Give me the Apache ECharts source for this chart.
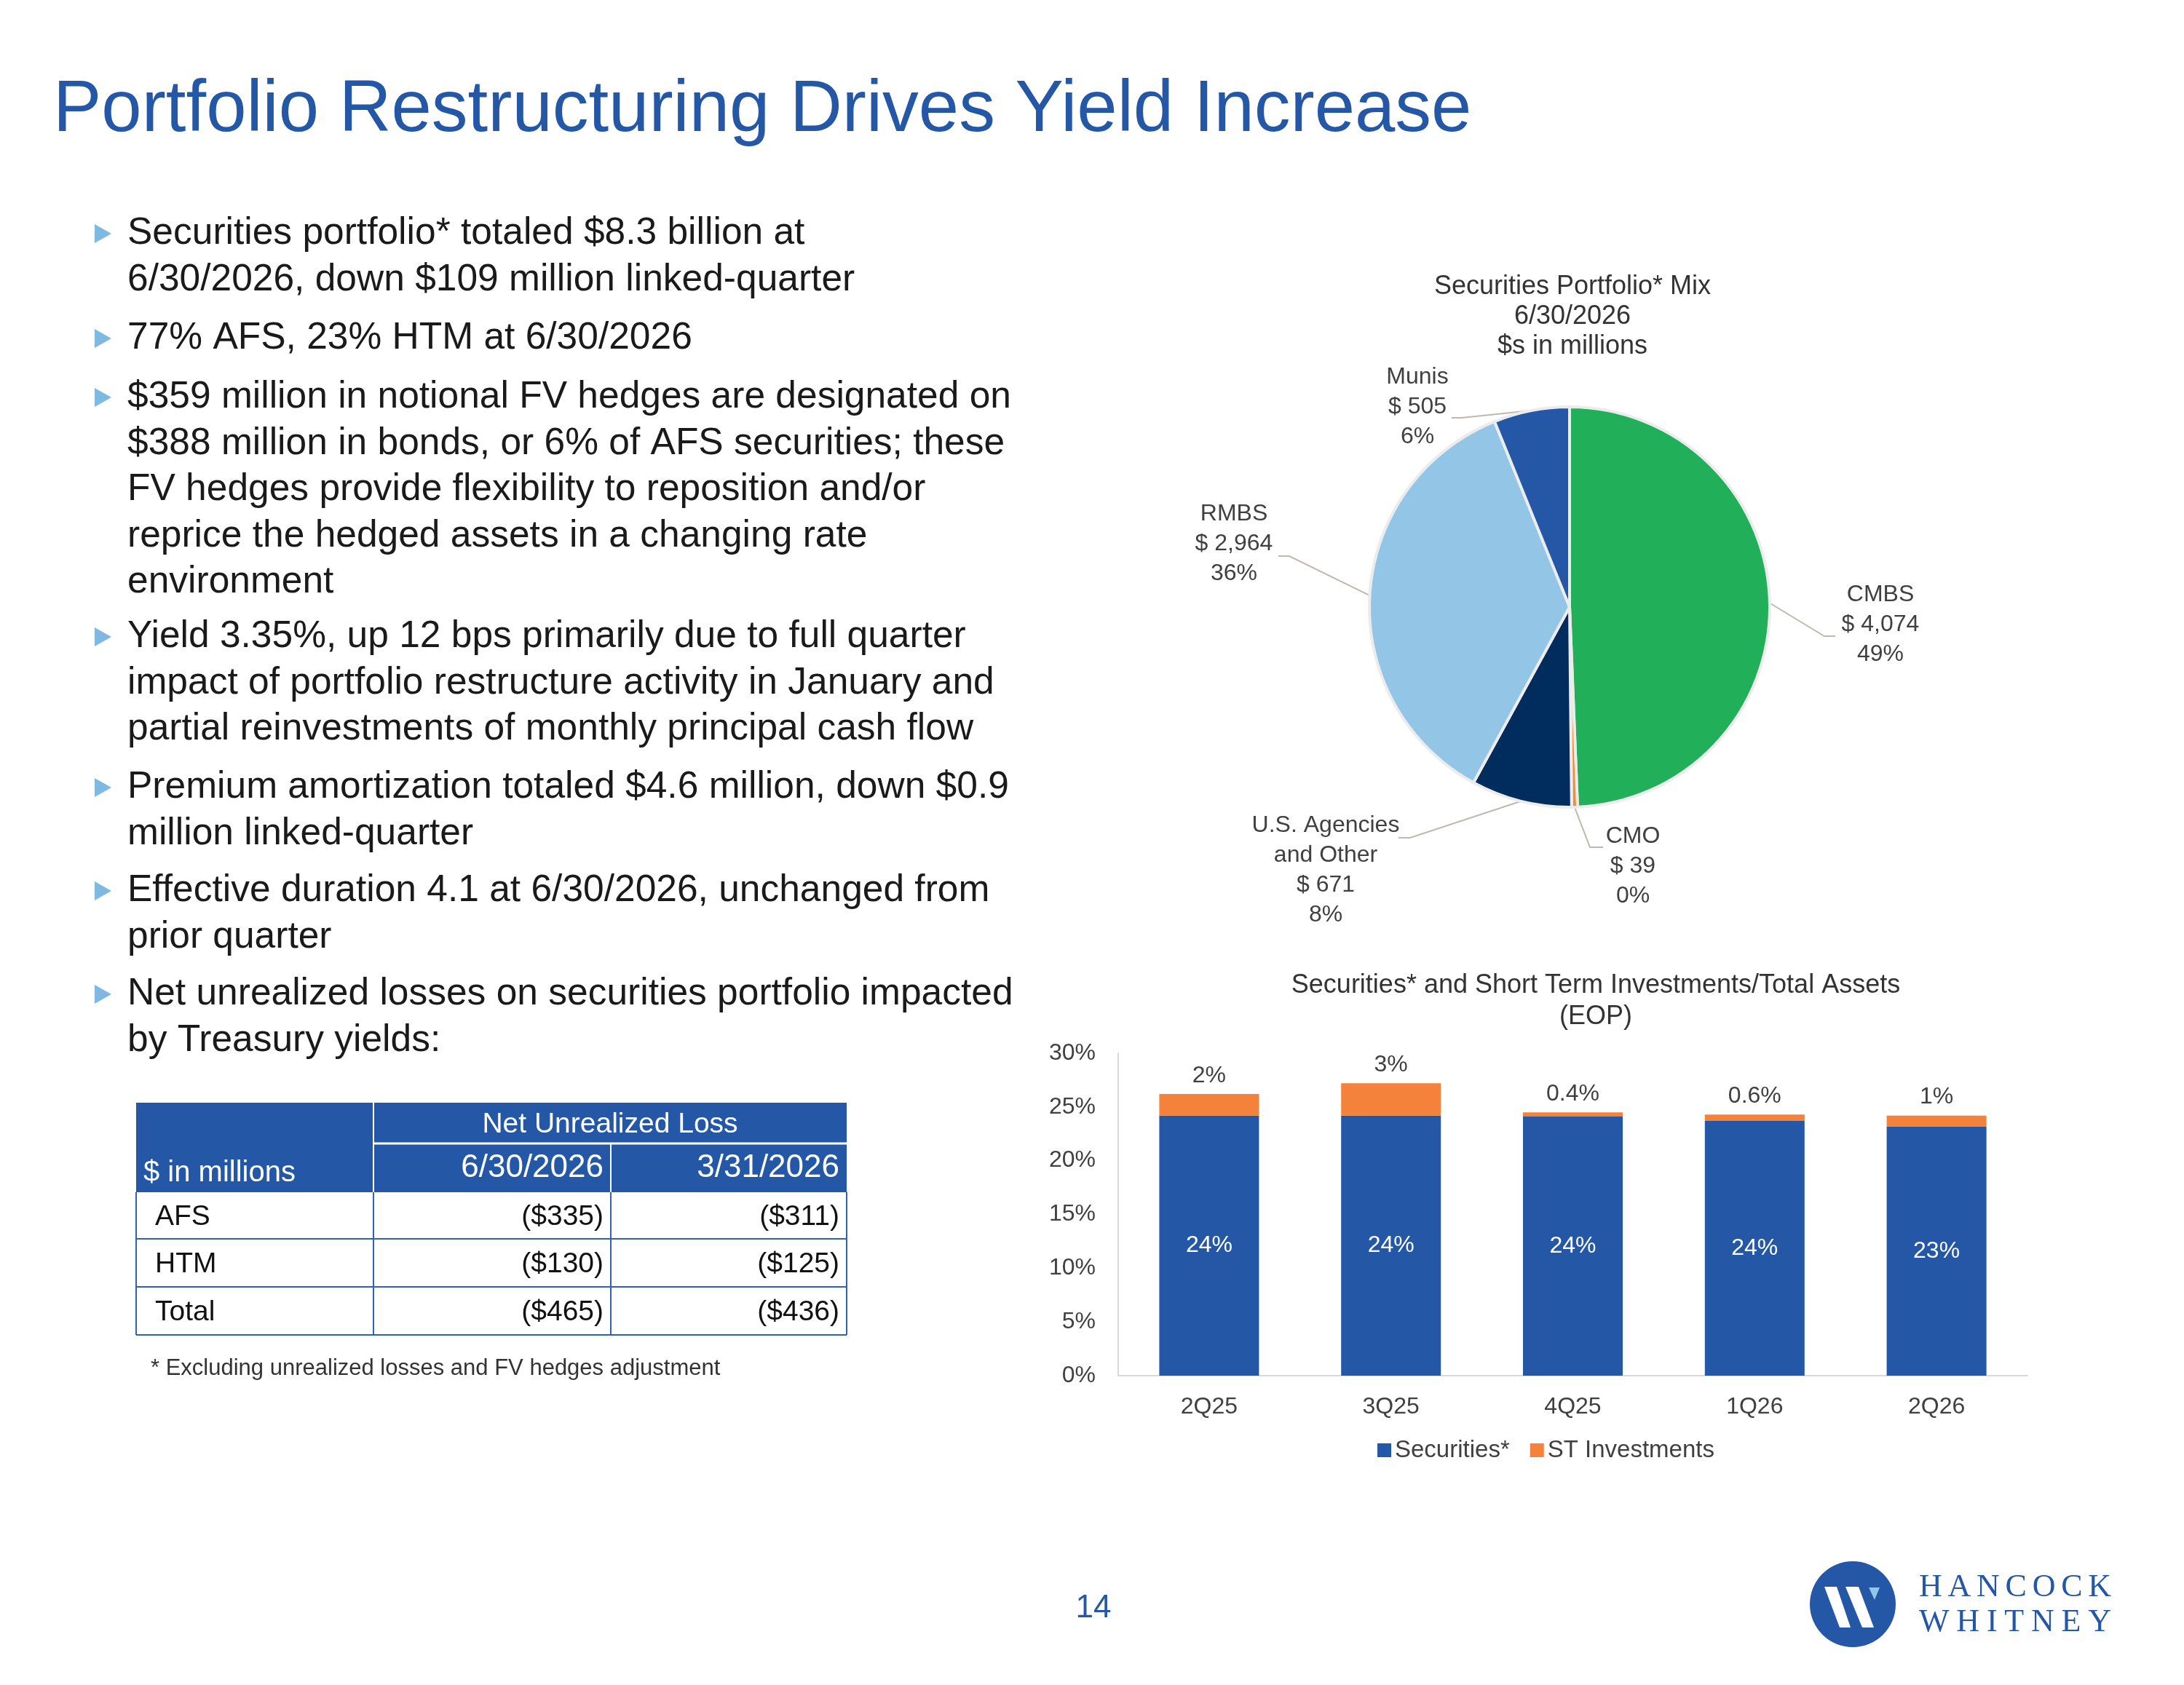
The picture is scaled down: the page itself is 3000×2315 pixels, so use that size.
<!DOCTYPE html>
<html>
<head>
<meta charset="utf-8">
<script src="https://cdn.jsdelivr.net/npm/echarts@6/dist/echarts.min.js"></script>
<style>
  html, body { margin: 0; padding: 0; background: #fff; }
  #chart { width: 3000px; height: 2315px; }
</style>
</head>
<body>
<div id="chart"></div>
<script>
// ---- data ----
const quarters = ['2Q25', '3Q25', '4Q25', '1Q26', '2Q26'];
const securitiesPct = [24.2, 24.2, 24.1, 23.7, 23.2];
const stInvestPct = [2.0, 3.0, 0.4, 0.6, 1.0];
const seriesNames = ['Securities*', 'ST Investments'];

const mixNames = ['CMBS', 'CMO', 'U.S. Agencies\nand Other', 'RMBS', 'Munis'];
const mixValues = [4074, 39, 671, 2964, 505];

const lossRows = ['AFS', 'HTM', 'Total'];
const lossDates = ['6/30/2026', '3/31/2026'];
const lossJun26 = [-335, -130, -465];
const lossMar26 = [-311, -125, -436];

const bullets = [
  ['Securities portfolio* totaled $8.3 billion at', '6/30/2026, down $109 million linked-quarter'],
  ['77% AFS, 23% HTM at 6/30/2026'],
  ['$359 million in notional FV hedges are designated on', '$388 million in bonds, or 6% of AFS securities; these',
   'FV hedges provide flexibility to reposition and/or', 'reprice the hedged assets in a changing rate', 'environment'],
  ['Yield 3.35%, up 12 bps primarily due to full quarter', 'impact of portfolio restructure activity in January and',
   'partial reinvestments of monthly principal cash flow'],
  ['Premium amortization totaled $4.6 million, down $0.9', 'million linked-quarter'],
  ['Effective duration 4.1 at 6/30/2026, unchanged from', 'prior quarter'],
  ['Net unrealized losses on securities portfolio impacted', 'by Treasury yields:']
];

// ---- styles ----
const FONT = '"Liberation Sans", Arial, sans-serif';
const SERIF = '"Liberation Serif", serif';
const BLUE = '#2457A6';
const mixColors = ['#21AF59', '#F58A34', '#002D5E', '#92C5E6', '#2457A5'];
const bulletTops = [321, 465, 546, 875, 1082, 1224, 1366];
const LINE_H = 63.5;

// label positions of the pie (label centre, elbow, end of leader)
const pieLabelSpots = [
  { x: 2583, y: 858, elbow: [2506, 874], end: [2521, 874] },
  { x: 2243, y: 1190, elbow: [2184, 1164], end: [2202, 1164] },
  { x: 1821, y: 1196, elbow: [1937, 1151], end: [1921, 1151] },
  { x: 1695, y: 747, elbow: [1771, 764], end: [1756, 764] },
  { x: 1947, y: 559, elbow: [2008, 574], end: [1994, 574] }
];

function txt(x, y, text, size, color, align, extra) {
  return {
    type: 'text', x: x, y: y, silent: true,
    style: Object.assign({
      text: text, fill: color,
      font: 'normal ' + size + 'px ' + FONT,
      align: align || 'left', textAlign: align || 'left',
      verticalAlign: 'middle', textVerticalAlign: 'middle'
    }, extra || {})
  };
}
function line(x1, y1, x2, y2, color, w) {
  return { type: 'line', silent: true, shape: { x1: x1, y1: y1, x2: x2, y2: y2 }, style: { stroke: color, lineWidth: w } };
}
const money = v => '($' + Math.abs(v) + ')';
const mixTotal = mixValues.reduce((a, b) => a + b, 0);

const graphics = [];

// title
graphics.push(txt(73, 153, 'Portfolio Restructuring Drives Yield Increase', 99.5, BLUE));

// bullets
bullets.forEach((lines, i) => {
  const y0 = bulletTops[i];
  graphics.push({ type: 'polygon', silent: true, shape: { points: [[130, y0 - 13], [153, y0], [130, y0 + 13]] }, style: { fill: '#7FB9E1' } });
  lines.forEach((t, j) => graphics.push(txt(175, y0 + j * LINE_H, t, 51.5, '#1A1A1A')));
});

// table
const TX = [187, 513, 839, 1163];
const TY = [1515, 1571, 1638, 1702, 1768, 1834];
const LINE_BLUE = '#2E62B3';
graphics.push({ type: 'rect', silent: true, shape: { x: TX[0], y: TY[0], width: TX[3] - TX[0], height: TY[2] - TY[0] }, style: { fill: '#2458A6' } });
graphics.push(line(TX[1], TY[0], TX[1], TY[2], '#fff', 2));
graphics.push(line(TX[1], TY[1], TX[3], TY[1], '#fff', 3));
graphics.push(line(TX[2], TY[1], TX[2], TY[2], '#fff', 2));
for (let r = 3; r <= 5; r++) graphics.push(line(TX[0], TY[r], TX[3], TY[r], LINE_BLUE, 2));
TX.forEach(x => graphics.push(line(x, TY[2], x, TY[5], LINE_BLUE, 2)));
graphics.push(txt((TX[1] + TX[3]) / 2, 1545, 'Net Unrealized Loss', 39, '#fff', 'center'));
graphics.push(txt(197, 1612, '$ in millions', 40, '#fff'));
graphics.push(txt(TX[2] - 10, 1605, lossDates[0], 44, '#fff', 'right'));
graphics.push(txt(TX[3] - 10, 1605, lossDates[1], 44, '#fff', 'right'));
lossRows.forEach((name, i) => {
  const y = (TY[2 + i] + TY[3 + i]) / 2 + 2;
  graphics.push(txt(213, y, name, 39, '#111'));
  graphics.push(txt(TX[2] - 10, y, money(lossJun26[i]), 39, '#111', 'right'));
  graphics.push(txt(TX[3] - 10, y, money(lossMar26[i]), 39, '#111', 'right'));
});
graphics.push(txt(207, 1880, '* Excluding unrealized losses and FV hedges adjustment', 31, '#333'));

// chart titles
graphics.push(txt(2160, 435, 'Securities Portfolio* Mix\n6/30/2026\n$s in millions', 36, '#333', 'center', { lineHeight: 41 }));
graphics.push(txt(2192, 1376, 'Securities* and Short Term Investments/Total Assets\n(EOP)', 36, '#333', 'center', { lineHeight: 43 }));

// page number + logo
graphics.push(txt(1502, 2210, '14', 44, BLUE, 'center'));
graphics.push({ type: 'circle', silent: true, shape: { cx: 2545, cy: 2204, r: 59 }, style: { fill: '#2457A6' } });
graphics.push({ type: 'polygon', silent: true, shape: { points: [[2506, 2180], [2523, 2180], [2542, 2236], [2527, 2236]] }, style: { fill: '#fff' } });
graphics.push({ type: 'polygon', silent: true, shape: { points: [[2535, 2180], [2553, 2180], [2574, 2236], [2558, 2236]] }, style: { fill: '#fff' } });
graphics.push({ type: 'polygon', silent: true, shape: { points: [[2567, 2181], [2582, 2181], [2575, 2198]] }, style: { fill: '#92C5E6' } });

// letter-spaced wordmark: spread letters evenly over the same width
const measureCtx = document.createElement('canvas').getContext('2d');
measureCtx.font = 'normal 44px ' + SERIF;
['HANCOCK', 'WHITNEY'].forEach((word, row) => {
  const chars = word.split('');
  const widths = chars.map(c => measureCtx.measureText(c).width);
  const gap = (2900 - 2636 - widths.reduce((a, b) => a + b, 0)) / (chars.length - 1);
  let x = 2636;
  chars.forEach((ch, k) => {
    graphics.push({
      type: 'text', silent: true, x: x, y: 2181 + row * 48,
      style: { text: ch, fill: BLUE, font: 'normal 44px ' + SERIF, align: 'left', textAlign: 'left', verticalAlign: 'middle', textVerticalAlign: 'middle' }
    });
    x += widths[k] + gap;
  });
});

const chart = echarts.init(document.getElementById('chart'));

const option = {
  animation: false,
  backgroundColor: '#fff',
  textStyle: { fontFamily: FONT },
  graphic: { elements: graphics },
  legend: {
    data: seriesNames,
    left: 1887, top: 1971,
    icon: 'rect', itemWidth: 19, itemHeight: 19, itemGap: 28,
    textStyle: { fontSize: 33, color: '#404040', fontFamily: FONT }
  },
  grid: { left: 1536, top: 1447, width: 1249, height: 443, containLabel: false },
  xAxis: {
    type: 'category', data: quarters,
    axisLine: { lineStyle: { color: '#D9D9D9', width: 2 } },
    axisTick: { show: false },
    axisLabel: { fontSize: 32, color: '#404040', margin: 27 }
  },
  yAxis: {
    type: 'value', min: 0, max: 30, interval: 5,
    axisLine: { show: true, lineStyle: { color: '#D9D9D9', width: 2 } },
    splitLine: { show: false },
    axisLabel: { fontSize: 32, color: '#404040', margin: 31, formatter: '{value}%' }
  },
  series: [
    {
      type: 'bar', name: seriesNames[0], stack: 'assets', data: securitiesPct, barWidth: 137,
      itemStyle: { color: '#2457A5' },
      label: { show: true, position: 'inside', color: '#fff', fontSize: 32, formatter: p => Math.round(p.value) + '%' }
    },
    {
      type: 'bar', name: seriesNames[1], stack: 'assets', data: stInvestPct, barWidth: 137,
      itemStyle: { color: '#F4823A' },
      label: {
        show: true, position: 'top', distance: 9, color: '#404040', fontSize: 32,
        formatter: p => (p.value >= 1 ? Math.round(p.value) : p.value.toFixed(1)) + '%'
      }
    },
    {
      type: 'pie', center: [2156, 834], radius: 275, startAngle: 90, clockwise: true,
      avoidLabelOverlap: false,
      data: mixNames.map((n, i) => ({ name: n, value: mixValues[i], itemStyle: { color: mixColors[i] } })),
      itemStyle: { borderColor: '#ECECEC', borderWidth: 4 },
      label: {
        show: true, position: 'outside', color: '#404040', fontSize: 32, lineHeight: 41, align: 'center',
        formatter: p => p.name + '\n$ ' + p.value.toLocaleString('en-US') + '\n' + Math.round(p.value / mixTotal * 100) + '%'
      },
      labelLine: { show: true, length: 10, length2: 10, lineStyle: { color: '#BFB8B0', width: 2 } },
      labelLayout: function (p) {
        const s = pieLabelSpots[p.dataIndex];
        const res = { x: s.x, y: s.y, align: 'center', verticalAlign: 'middle' };
        if (p.labelLinePoints) res.labelLinePoints = [p.labelLinePoints[0], s.elbow, s.end];
        return res;
      },
      emphasis: { disabled: true }
    }
  ]
};

chart.setOption(option);
</script>
</body>
</html>
